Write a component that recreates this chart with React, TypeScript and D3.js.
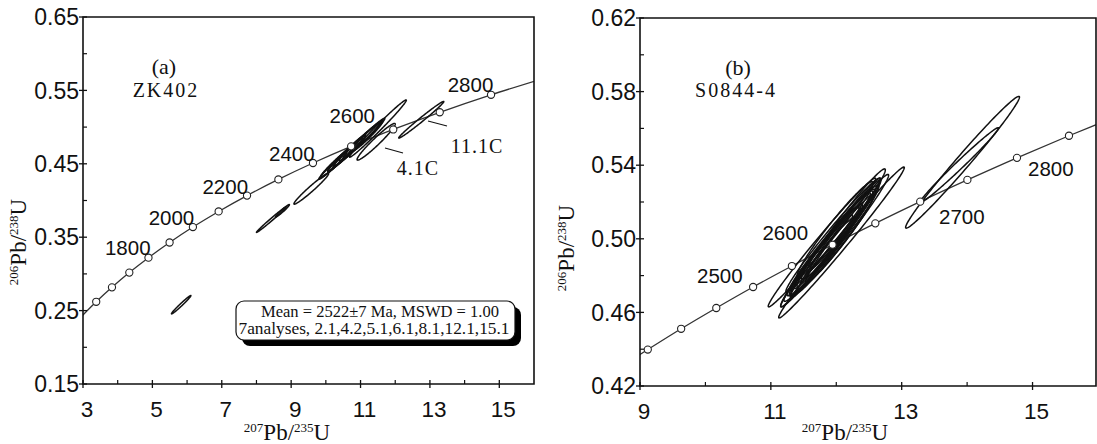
import React from "react";
import * as d3 from "d3";

const W = 1097;
const H = 444;

// ---------- Panel (a) data ----------
const markerAgesA = [1500, 1600, 1700, 1800, 1900, 2000, 2100, 2200, 2300, 2400, 2500, 2600, 2700, 2800];
const markerXA = [3.381, 3.835, 4.335, 4.887, 5.496, 6.168, 6.910, 7.728, 8.632, 9.629, 10.729, 11.943, 13.283, 14.762];
const markerYA = [0.2620, 0.2817, 0.3018, 0.3221, 0.3428, 0.3638, 0.3851, 0.4067, 0.4287, 0.4511, 0.4738, 0.4968, 0.5202, 0.5440];
const curveStartA = [2.970, 0.2426];
const curveEndA = [16.394, 0.5681];
const labelTextA = ["1800", "2000", "2200", "2400", "2600", "2800"];
const labelXA = [4.29, 5.55, 7.10, 9.02, 10.76, 14.17];
const labelYA = [0.336, 0.377, 0.419, 0.464, 0.516, 0.558];
// ellipses: centre x, centre y, sigma x, sigma y, correlation
const ellCxA = [5.83, 8.43, 8.75, 9.58, 10.2, 10.45, 10.8, 11.0, 10.7, 11.5, 11.45, 12.75, 10.9, 11.1, 10.6, 10.3, 11.2];
const ellCyA = [0.258, 0.374, 0.386, 0.416, 0.447, 0.458, 0.472, 0.481, 0.468, 0.498, 0.480, 0.510, 0.476, 0.485, 0.465, 0.452, 0.488];
const ellSxA = [0.28, 0.43, 0.2, 0.5, 0.4, 0.6, 0.75, 0.62, 0.45, 0.82, 0.55, 0.65, 0.7, 0.6, 0.55, 0.45, 0.45];
const ellSyA = [0.0125, 0.0175, 0.0085, 0.021, 0.018, 0.027, 0.033, 0.027, 0.02, 0.039, 0.025, 0.025, 0.031, 0.027, 0.025, 0.02, 0.021];
const ellRhoA = [0.985, 0.993, 0.97, 0.975, 0.98, 0.985, 0.99, 0.985, 0.97, 0.99, 0.965, 0.99, 0.99, 0.985, 0.985, 0.975, 0.97];
const xTicksA = [3, 5, 7, 9, 11, 13, 15];
const xMinorA = [4, 6, 8, 10, 12, 14];
const yTicksA = [0.15, 0.25, 0.35, 0.45, 0.55, 0.65];
const yMinorA = [0.2, 0.3, 0.4, 0.5, 0.6];

// ---------- Panel (b) data ----------
const markerAgesB = [2350, 2400, 2450, 2500, 2550, 2600, 2650, 2700, 2750, 2800, 2850];
const markerXB = [9.119, 9.629, 10.166, 10.729, 11.322, 11.943, 12.597, 13.283, 14.004, 14.762, 15.557];
const markerYB = [0.4398, 0.4511, 0.4624, 0.4738, 0.4852, 0.4968, 0.5084, 0.5202, 0.5320, 0.5440, 0.5560];
const curveStartB = [8.632, 0.4287];
const curveEndB = [16.394, 0.5681];
const labelTextB = ["2500", "2600", "2700", "2800"];
const labelXB = [10.22, 11.22, 13.92, 15.28];
const labelYB = [0.480, 0.5035, 0.512, 0.538];
const ellCxB = [11.78, 12.08, 11.95, 11.9, 12.02, 11.85, 12.05, 11.92, 12.12, 11.8, 13.93, 13.88, 11.95, 12.0, 11.88, 12.1, 11.75, 12.15, 11.98, 11.7];
const ellCyB = [0.498, 0.498, 0.502, 0.497, 0.503, 0.494, 0.500, 0.498, 0.506, 0.490, 0.5416, 0.540, 0.499, 0.500, 0.496, 0.503, 0.490, 0.510, 0.505, 0.488];
const ellSxB = [0.82, 0.96, 0.72, 0.62, 0.66, 0.55, 0.52, 0.45, 0.56, 0.50, 0.87, 0.60, 0.70, 0.60, 0.68, 0.70, 0.60, 0.60, 0.58, 0.55];
const ellSyB = [0.035, 0.041, 0.031, 0.028, 0.030, 0.025, 0.024, 0.020, 0.026, 0.022, 0.0358, 0.0204, 0.030, 0.027, 0.030, 0.032, 0.027, 0.028, 0.026, 0.025];
const ellRhoB = [0.99, 0.992, 0.985, 0.98, 0.985, 0.975, 0.975, 0.96, 0.98, 0.975, 0.988, 0.99, 0.975, 0.96, 0.98, 0.985, 0.98, 0.98, 0.97, 0.985];
const xTicksB = [9, 11, 13, 15];
const xMinorB = [10, 12, 14];
const yTicksB = [0.42, 0.46, 0.50, 0.54, 0.58, 0.62];
const yMinorB = [0.44, 0.48, 0.52, 0.56, 0.60];

const legendLine1 = "Mean = 2522\u00B17 Ma, MSWD = 1.00";
const legendLine2 = "7analyses, 2.1,4.2,5.1,6.1,8.1,12.1,15.1";

const INK = "#111";
const SANS = "'Liberation Sans', Arial, sans-serif";
const SERIF = "'Liberation Serif', 'Times New Roman', serif";

function ellipsePath(
  cx: number, cy: number, sx: number, sy: number, rho: number,
  xs: d3.ScaleLinear<number, number>, ys: d3.ScaleLinear<number, number>
) {
  const n = 160;
  const pts: [number, number][] = [];
  const k = Math.sqrt(1 - rho * rho);
  for (let i = 0; i < n; i++) {
    const t = (i / n) * Math.PI * 2;
    const x = cx + sx * Math.cos(t);
    const y = cy + sy * (rho * Math.cos(t) + k * Math.sin(t));
    pts.push([xs(x), ys(y)]);
  }
  return d3.line().curve(d3.curveLinearClosed)(pts) || "";
}

type PanelProps = {
  id: string;
  x0: number; x1: number; y0: number; y1: number;
  xDom: [number, number]; yDom: [number, number];
  mx: number[]; my: number[]; start: number[]; end: number[];
  lt: string[]; lx: number[]; ly: number[];
  ecx: number[]; ecy: number[]; esx: number[]; esy: number[]; erho: number[];
  xt: number[]; xm: number[]; yt: number[]; ym: number[];
  yFmt: (v: number) => string;
};

function Panel(p: PanelProps) {
  const xs = d3.scaleLinear().domain(p.xDom).range([p.x0, p.x1]);
  const ys = d3.scaleLinear().domain(p.yDom).range([p.y1, p.y0]);
  const curvePts: [number, number][] = [
    [xs(p.start[0]), ys(p.start[1])],
    ...p.mx.map((v, i) => [xs(v), ys(p.my[i])] as [number, number]),
    [xs(p.end[0]), ys(p.end[1])],
  ];
  const conc = d3.line().curve(d3.curveCatmullRom)(curvePts) || "";
  const clipId = "clip-" + p.id;
  return (
    <g>
      <defs>
        <clipPath id={clipId}>
          <rect x={p.x0} y={p.y0} width={p.x1 - p.x0} height={p.y1 - p.y0} />
        </clipPath>
      </defs>
      <g clipPath={`url(#${clipId})`}>
        <path d={conc} fill="none" stroke="#333" strokeWidth={1.3} />
        {p.ecx.map((c, i) => (
          <path key={i} d={ellipsePath(c, p.ecy[i], p.esx[i], p.esy[i], p.erho[i], xs, ys)}
            fill="none" stroke={INK} strokeWidth={1.5} />
        ))}
        {p.mx.map((v, i) => (
          <circle key={i} cx={xs(v)} cy={ys(p.my[i])} r={3.6} fill="#fff" stroke="#222" strokeWidth={1.1} />
        ))}
      </g>
      {p.lt.map((t, i) => (
        <text key={i} x={xs(p.lx[i])} y={ys(p.ly[i])} dy="0.36em" textAnchor="middle"
          fontFamily={SANS} fontSize={20.5} fill={INK}>{t}</text>
      ))}
      {/* frame */}
      <path d={`M${p.x0},${p.y1}V${p.y0}H${p.x1}V${p.y1}Z`} fill="none" stroke={INK} strokeWidth={1.6} />
      {/* x ticks */}
      {p.xt.map((v, i) => (
        <g key={"xt" + i}>
          <line x1={xs(v)} x2={xs(v)} y1={p.y1 - 4} y2={p.y1 + 4} stroke={INK} strokeWidth={1.3} />
          <text x={xs(v) + 4} y={p.y1 + 33} textAnchor="middle" fontFamily={SANS} fontSize={22.5} fill={INK}>{v}</text>
        </g>
      ))}
      {p.xm.map((v, i) => (
        <line key={"xm" + i} x1={xs(v)} x2={xs(v)} y1={p.y1 - 4} y2={p.y1} stroke={INK} strokeWidth={1.2} />
      ))}
      {p.yt.map((v, i) => (
        <g key={"yt" + i}>
          <line x1={p.x0 - 4} x2={p.x0 + 4} y1={ys(v)} y2={ys(v)} stroke={INK} strokeWidth={1.3} />
          <text x={p.x0 - 4} y={ys(v)} dy="0.36em" textAnchor="end" fontFamily={SANS} fontSize={23} fill={INK}>{p.yFmt(v)}</text>
        </g>
      ))}
      {p.ym.map((v, i) => (
        <line key={"ym" + i} x1={p.x0} x2={p.x0 + 4} y1={ys(v)} y2={ys(v)} stroke={INK} strokeWidth={1.2} />
      ))}
    </g>
  );
}

function AxisTitle({ x, y, a, b, rotate }: { x: number; y: number; a: string; b: string; rotate?: boolean }) {
  return (
    <text x={x} y={y} textAnchor="middle" fontFamily={SERIF} fill={INK}
      transform={rotate ? `rotate(-90 ${x} ${y})` : undefined}>
      <tspan fontSize={13} dy={-8}>{a}</tspan>
      <tspan fontSize={23} dy={8}>Pb/</tspan>
      <tspan fontSize={13} dy={-8}>{b}</tspan>
      <tspan fontSize={23} dy={8}>U</tspan>
    </text>
  );
}

export default function App() {
  const fmt2 = (v: number) => v.toFixed(2);
  return (
    <svg width={W} height={H} style={{ position: "absolute", left: 0, top: 0, background: "#fff" }}
      xmlns="http://www.w3.org/2000/svg">
      <rect width={W} height={H} fill="#fff" />
      <Panel id="a" x0={83} x1={534} y0={17} y1={384} xDom={[3, 16]} yDom={[0.15, 0.65]}
        mx={markerXA} my={markerYA} start={curveStartA} end={curveEndA}
        lt={labelTextA} lx={labelXA} ly={labelYA}
        ecx={ellCxA} ecy={ellCyA} esx={ellSxA} esy={ellSyA} erho={ellRhoA}
        xt={xTicksA} xm={xMinorA} yt={yTicksA} ym={yMinorA} yFmt={fmt2} />
      <Panel id="b" x0={640} x1={1096} y0={18} y1={386} xDom={[9, 15.97]} yDom={[0.42, 0.62]}
        mx={markerXB} my={markerYB} start={curveStartB} end={curveEndB}
        lt={labelTextB} lx={labelXB} ly={labelYB}
        ecx={ellCxB} ecy={ellCyB} esx={ellSxB} esy={ellSyB} erho={ellRhoB}
        xt={xTicksB} xm={xMinorB} yt={yTicksB} ym={yMinorB} yFmt={fmt2} />

      {/* panel annotations */}
      <text x={164} y={74} textAnchor="middle" fontFamily={SERIF} fontSize={22} fill={INK}>(a)</text>
      <text x={166} y={97} textAnchor="middle" fontFamily={SERIF} fontSize={20} letterSpacing={2} fill={INK}>ZK402</text>
      <text x={738} y={75} textAnchor="middle" fontFamily={SERIF} fontSize={22} fill={INK}>(b)</text>
      <text x={736} y={97} textAnchor="middle" fontFamily={SERIF} fontSize={20} letterSpacing={2} fill={INK}>S0844-4</text>

      <line x1={385} y1={148} x2={403} y2={153} stroke={INK} strokeWidth={1.1} />
      <text x={418} y={175} textAnchor="middle" fontFamily={SERIF} fontSize={20} letterSpacing={1} fill={INK}>4.1C</text>
      <line x1={428} y1={121} x2={447} y2={126} stroke={INK} strokeWidth={1.1} />
      <text x={477} y={153} textAnchor="middle" fontFamily={SERIF} fontSize={20} letterSpacing={1} fill={INK}>11.1C</text>

      {/* legend box */}
      <rect x={242} y={307} width={279} height={39} rx={8} fill="#000" />
      <rect x={236} y={301} width={279} height={39} rx={8} fill="#fff" stroke={INK} strokeWidth={1.2} />
      <text x={380} y={317} textAnchor="middle" fontFamily={SERIF} fontSize={17} fill={INK}
        textLength={238} lengthAdjust="spacingAndGlyphs">{legendLine1}</text>
      <text x={374} y={334} textAnchor="middle" fontFamily={SERIF} fontSize={17} fill={INK}
        textLength={271} lengthAdjust="spacingAndGlyphs">{legendLine2}</text>

      {/* axis titles */}
      <AxisTitle x={287} y={440} a="207" b="235" />
      <AxisTitle x={845} y={440} a="207" b="235" />
      <AxisTitle x={26} y={242} a="206" b="238" rotate />
      <AxisTitle x={574} y={248} a="206" b="238" rotate />
    </svg>
  );
}
